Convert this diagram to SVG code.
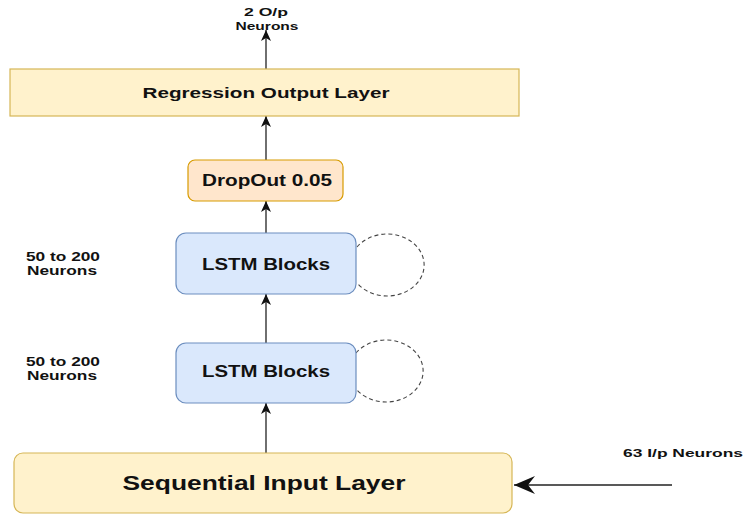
<svg xmlns="http://www.w3.org/2000/svg" width="744" height="515" viewBox="0 0 744 515">
<defs>
<style>
text{font-family:"Liberation Sans",Arial,sans-serif;font-weight:bold;fill:#111;text-anchor:middle}
.yel{fill:#fff2cc;stroke:#d6b656;stroke-width:1.2}
.org{fill:#ffe6cc;stroke:#d79b00;stroke-width:1.2}
.blu{fill:#dae8fc;stroke:#6c8ebf;stroke-width:1.2}
.edge{stroke:#222;stroke-width:1.3;fill:none}
.loop{stroke:#444;stroke-width:1.1;fill:none;stroke-dasharray:4 3}
</style>
<marker id="ah" markerUnits="userSpaceOnUse" markerWidth="12" markerHeight="10" refX="11" refY="5" orient="auto">
<path d="M0,0 L11,5 L0,10 L3,5 Z" fill="#111"/>
</marker>
<marker id="ahb" markerUnits="userSpaceOnUse" markerWidth="22" markerHeight="18" refX="21" refY="9" orient="auto">
<path d="M0,0 L21,9 L0,18 L7,9 Z" fill="#111"/>
</marker>
</defs>
<g id="connectors">
<line class="edge" x1="266" y1="69" x2="266" y2="30" marker-end="url(#ah)"/>
<line class="edge" x1="266" y1="160" x2="266" y2="116" marker-end="url(#ah)"/>
<line class="edge" x1="266" y1="233" x2="266" y2="201" marker-end="url(#ah)"/>
<line class="edge" x1="266" y1="343" x2="266" y2="294" marker-end="url(#ah)"/>
<line class="edge" x1="266" y1="453" x2="266" y2="403" marker-end="url(#ah)"/>
<line class="edge" x1="672" y1="485" x2="514" y2="485" marker-end="url(#ahb)"/>
<path class="loop" d="M357,247 A37 31 0 1 1 357,283"/>
<path class="loop" d="M356,353 A37 31 0 1 1 356,389"/>
</g>
<g id="out-label">
<text x="266" y="16" font-size="11.5" textLength="44" lengthAdjust="spacingAndGlyphs">2 O/p</text>
<text x="267" y="30" font-size="11.5" textLength="63" lengthAdjust="spacingAndGlyphs">Neurons</text>
</g>
<g id="regression">
<rect class="yel" x="10" y="69" width="509" height="47"/>
<text x="266" y="98" font-size="15" textLength="247" lengthAdjust="spacingAndGlyphs">Regression Output Layer</text>
</g>
<g id="dropout">
<rect class="org" x="188" y="160" width="155" height="41" rx="7"/>
<text x="267" y="186" font-size="16" textLength="130" lengthAdjust="spacingAndGlyphs">DropOut 0.05</text>
</g>
<g id="lstm1">
<rect class="blu" x="176" y="233" width="180" height="61" rx="10"/>
<text x="266" y="270" font-size="16" textLength="128" lengthAdjust="spacingAndGlyphs">LSTM Blocks</text>
</g>
<g id="lstm1-label">
<text x="63" y="261" font-size="12" textLength="74" lengthAdjust="spacingAndGlyphs">50 to 200</text>
<text x="62" y="275" font-size="12" textLength="70" lengthAdjust="spacingAndGlyphs">Neurons</text>
</g>
<g id="lstm2">
<rect class="blu" x="176" y="343" width="180" height="60" rx="10"/>
<text x="266" y="377" font-size="16" textLength="128" lengthAdjust="spacingAndGlyphs">LSTM Blocks</text>
</g>
<g id="lstm2-label">
<text x="63" y="366" font-size="12" textLength="74" lengthAdjust="spacingAndGlyphs">50 to 200</text>
<text x="62" y="380" font-size="12" textLength="70" lengthAdjust="spacingAndGlyphs">Neurons</text>
</g>
<g id="input">
<rect class="yel" x="14" y="453" width="498" height="60" rx="9"/>
<text x="264" y="490" font-size="19.5" textLength="283" lengthAdjust="spacingAndGlyphs">Sequential Input Layer</text>
</g>
<g id="in-label">
<text x="683" y="457" font-size="11" textLength="120" lengthAdjust="spacingAndGlyphs">63 I/p Neurons</text>
</g>
</svg>
